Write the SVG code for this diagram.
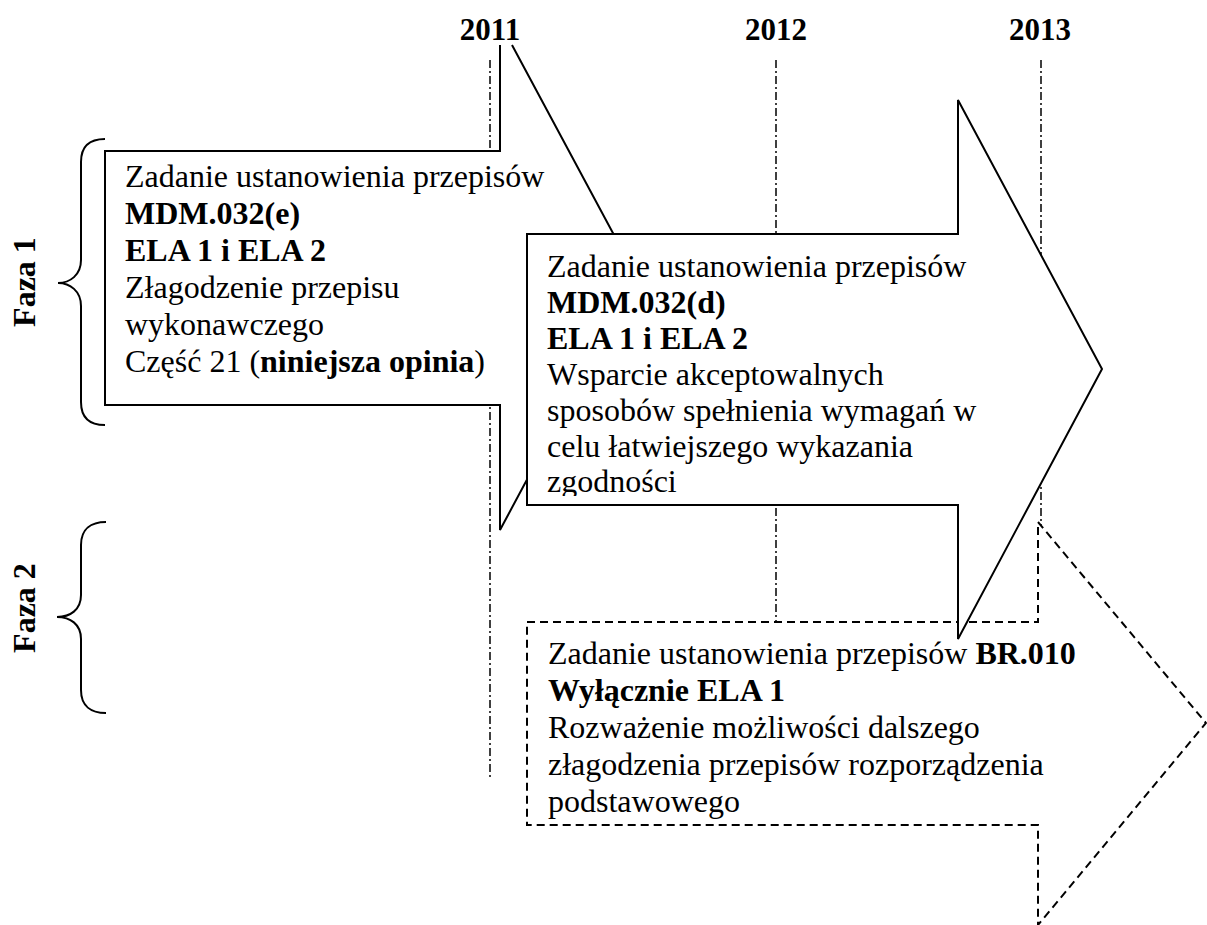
<svg xmlns="http://www.w3.org/2000/svg" width="1207" height="925" viewBox="0 0 1207 925">
<style>
text{font-family:"Liberation Serif","Times New Roman",serif;font-size:32px;fill:#000}
.b{font-weight:bold}
.year{font-weight:bold;font-size:31px;text-anchor:middle}
.ax{stroke:#000;stroke-width:1.5;fill:none;stroke-dasharray:8 3 2 3}
.fillw{fill:#fff;stroke:none}
.solid{fill:none;stroke:#000;stroke-width:2;stroke-linejoin:miter}
.dashed{fill:none;stroke:#000;stroke-width:2;stroke-dasharray:8 5}
.brace{fill:none;stroke:#000;stroke-width:2}
</style>
<defs>
<clipPath id="clip2"><rect x="527" y="234" width="700" height="262"/></clipPath>
</defs>
<rect width="1207" height="925" fill="#fff"/>

<g id="timeline">
<text class="year" x="490" y="40">2011</text>
<text class="year" x="776" y="40">2012</text>
<text class="year" x="1040" y="40">2013</text>
<line class="ax" x1="490" y1="60" x2="490" y2="780"/>
<line class="ax" x1="776" y1="60" x2="776" y2="780"/>
<line class="ax" x1="1041" y1="60" x2="1041" y2="780"/>
</g>

<g id="faza1">
<path class="brace" d="M105,139 C90,139 81,146 81,162 L81,260 C81,275 70,283 58,283 C70,283 81,291 81,306 L81,402 C81,418 90,425 105,425"/>
<text class="b" transform="translate(35,282) rotate(-90)" text-anchor="middle">Faza 1</text>
</g>

<g id="faza2">
<path class="brace" d="M106,522 C91,522 81,529 81,545 L81,595 C81,610 70,617 57,617 C70,617 81,624 81,639 L81,690 C81,706 91,713 106,713"/>
<text class="b" transform="translate(35,608) rotate(-90)" text-anchor="middle">Faza 2</text>
</g>

<g id="arrow1">
<polygon class="fillw" points="105,151 500,151 500,45 512,45 636,276 500,530 500,405 105,405"/>
<path class="solid" d="M512,45 L636,276 L500,530 L500,405 L105,405 L105,151 L500,151 L500,45"/>
<text x="125" y="187">Zadanie ustanowienia przepisów</text>
<text class="b" x="125" y="224">MDM.032(e)</text>
<text class="b" x="125" y="261">ELA 1 i ELA 2</text>
<text x="125" y="298">Złagodzenie przepisu</text>
<text x="125" y="335">wykonawczego</text>
<text x="125" y="372">Część 21 (<tspan class="b">niniejsza opinia</tspan>)</text>
</g>

<g id="arrow3">
<polygon class="fillw" points="527,622 1038,622 1038,522 1206,723 1038,925 1038,825 527,825"/>
<polygon class="dashed" points="527,622 1038,622 1038,522 1206,723 1038,925 1038,825 527,825"/>
<text x="548" y="664">Zadanie ustanowienia przepisów <tspan class="b">BR.010</tspan></text>
<text class="b" x="548" y="701">Wyłącznie ELA 1</text>
<text x="548" y="738">Rozważenie możliwości dalszego</text>
<text x="548" y="775">złagodzenia przepisów rozporządzenia</text>
<text x="548" y="812">podstawowego</text>
</g>

<g id="arrow2">
<polygon class="fillw" points="527,234 958,234 958,100 1102,369 958,639 958,505 527,505"/>
<polygon class="solid" points="527,234 958,234 958,100 1102,369 958,639 958,505 527,505"/>
<g clip-path="url(#clip2)">
<text x="547" y="277">Zadanie ustanowienia przepisów</text>
<text class="b" x="547" y="313">MDM.032(d)</text>
<text class="b" x="547" y="349">ELA 1 i ELA 2</text>
<text x="547" y="385">Wsparcie akceptowalnych</text>
<text x="547" y="421">sposobów spełnienia wymagań w</text>
<text x="547" y="457">celu łatwiejszego wykazania</text>
<text x="547" y="492">zgodności</text>
</g>
</g>
</svg>
